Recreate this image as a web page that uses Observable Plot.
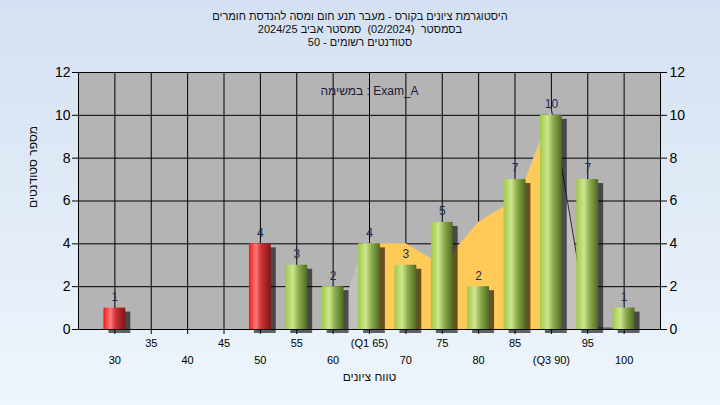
<!DOCTYPE html>
<html><head><meta charset="utf-8">
<script src="https://cdn.jsdelivr.net/npm/d3@7"></script>
<script src="https://cdn.jsdelivr.net/npm/@observablehq/plot@0.6"></script>
<style>
html,body{margin:0;padding:0;}
body{width:720px;height:405px;background:linear-gradient(#d4e1f2,#eef5fc);font-family:"Liberation Sans",Arial,sans-serif;overflow:hidden}
#title{height:50px;box-sizing:border-box;padding-top:10px;text-align:center;font-size:11px;line-height:13px;color:#111;direction:rtl;white-space:pre}
#chart svg{display:block}
</style></head><body>
<div id="title"><div>היסטוגרמת ציונים בקורס - מעבר תנע חום ומסה להנדסת חומרים</div><div>בסמסטר  (02/2024)  סמסטר אביב 2024/25</div><div>סטודנטים רשומים - 50</div></div>
<div id="chart"></div>
<script>
// ---- data ----
const barScores = [30, 50, 55, 60, 65, 70, 75, 80, 85, 90, 95, 100];
const barCounts = [1, 4, 3, 2, 4, 3, 5, 2, 7, 10, 7, 1];
const passMark = 55;
const tickValues = [30, 35, 40, 45, 50, 55, 60, 65, 70, 75, 80, 85, 90, 95, 100];
const tickLabels = ["30", "35", "40", "45", "50", "55", "60", "(Q1 65)", "70", "75", "80", "85", "(Q3 90)", "95", "100"];
const yTicks = [0, 2, 4, 6, 8, 10, 12];
const orangeX = [63.5, 65, 70, 74, 76.5, 80, 83.4, 86.5, 90, 91.4];
const orangeY = [0, 4, 4, 3.2, 3.6, 5, 5.7, 7, 10, 0];
const silverX = [30, 60.5, 64.2, 70, 74, 76.5, 80, 83.4, 86.5, 90, 91.5, 93.4, 95, 100];
const silverY = [0, 0, 4, 4, 3.2, 3.6, 5, 5.7, 7, 10.3, 7.4, 3.6, 0.08, 0.05];
const legendText = "במשימה : Exam_A";
const xTitle = "טווח ציונים";
const yTitle = "מספר סטודנטים";

// ---- tables ----
const bars = barScores.map((x, i) => ({x, n: barCounts[i], fail: x < passMark}));
const orange = orangeX.map((x, i) => ({x, y: orangeY[i]}));
const silver = silverX.map((x, i) => ({x, y: silverY[i]}));
const labelOf = new Map(tickValues.map((v, i) => [v, tickLabels[i]]));
const oddTicks = tickValues.filter((v, i) => i % 2 === 1);
const evenTicks = tickValues.filter((v, i) => i % 2 === 0);
const half = 1.5;

const defs = () => {
  const d = d3.create("svg:defs");
  const grad = (id, stops) => {
    const g = d.append("linearGradient").attr("id", id).attr("x1", 0).attr("x2", 1).attr("y1", 0).attr("y2", 0);
    stops.forEach(([o, c]) => g.append("stop").attr("offset", o).attr("stop-color", c));
  };
  grad("gRed", [[0, "#f01818"], [0.12, "#ff3c3c"], [0.32, "#ff7a7a"], [0.55, "#d03434"], [1, "#7e1616"]]);
  grad("gGreen", [[0, "#a0c84a"], [0.12, "#b0d45c"], [0.35, "#cde690"], [0.6, "#8eae4e"], [1, "#4d6a22"]]);
  d.append("filter").attr("id", "blurSh").attr("x", "-50%").attr("width", "200%")
    .append("feGaussianBlur").attr("stdDeviation", 2);
  return d.node();
};

const chart = Plot.plot({
  width: 720, height: 355,
  marginTop: 22, marginBottom: 76, marginLeft: 78, marginRight: 60,
  style: {background: "transparent", fontFamily: "Liberation Sans, Arial, sans-serif", color: "#000"},
  x: {domain: [25, 105]},
  y: {domain: [0, 12]},
  marks: [
    defs,
    Plot.frame({fill: "#b4b4b4", stroke: null}),
    Plot.gridX(tickValues, {stroke: "#000", strokeOpacity: 1}),
    Plot.gridY(yTicks, {stroke: "#000", strokeOpacity: 1}),
    Plot.text([legendText], {frameAnchor: "top", dy: 14, fontSize: 12, fill: "#1a1a3a"}),
    Plot.areaY(silver, {x: "x", y: "y", fill: "#c0c0c0"}),
    Plot.lineY(silver.filter(d => d.x >= 90), {x: "x", y: "y", stroke: "#333", strokeWidth: 1}),
    Plot.areaY(orange, {x: "x", y: "y", fill: "#ffca58"}),
    Plot.rectY(bars, {x1: d => d.x - half, x2: d => d.x + half, y: "n", fill: "#000", fillOpacity: 0.6, dx: 5, dy: 4, ariaLabel: "shadow"}),
    Plot.rectY(bars, {filter: d => d.fail, x1: d => d.x - half, x2: d => d.x + half, y: "n", fill: "url(#gRed)"}),
    Plot.rectY(bars, {filter: d => !d.fail, x1: d => d.x - half, x2: d => d.x + half, y: "n", fill: "url(#gGreen)"}),
    Plot.text(bars, {x: "x", y: "n", text: d => String(d.n), dy: -11, fontSize: 12, fill: "#1c2d55"}),
    Plot.frame({stroke: "#000"}),
    Plot.axisX(oddTicks, {tickSize: 5, tickPadding: 5, tickFormat: v => labelOf.get(v), fontSize: 11, label: null}),
    Plot.axisX(evenTicks, {tickSize: 5, tickPadding: 22, tickFormat: v => labelOf.get(v), fontSize: 11, label: null}),
    Plot.axisY(yTicks, {anchor: "left", tickSize: 6, tickPadding: 2, fontSize: 14, label: null}),
    Plot.axisY(yTicks, {anchor: "right", tickSize: 6, tickPadding: 3, fontSize: 14, label: null}),
    Plot.text([xTitle], {frameAnchor: "bottom", dy: 51, fontSize: 12, fill: "#111"}),
    Plot.text([yTitle], {frameAnchor: "left", dx: -45, dy: 7, rotate: -90, fontSize: 12, fill: "#111"})
  ]
});
chart.querySelectorAll('[aria-label="shadow"]').forEach(g => g.setAttribute("filter", "url(#blurSh)"));
document.getElementById("chart").appendChild(chart);
</script>
</body></html>
